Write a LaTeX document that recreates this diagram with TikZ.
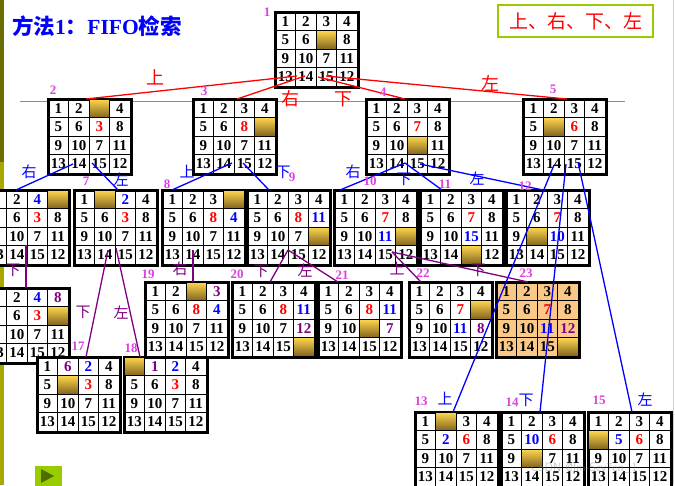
\documentclass[tikz,border=0pt]{standalone}
\usepackage{fontspec}
\setmainfont{Liberation Serif}
\newfontfamily\cjk{Noto Sans CJK SC}
\usetikzlibrary{calc}

\definecolor{tred}{RGB}{255,0,0}
\definecolor{tblue}{RGB}{0,0,255}
\definecolor{tpurple}{RGB}{128,0,128}
\definecolor{tmag}{RGB}{224,64,224}
\definecolor{olivebar}{RGB}{110,110,0}
\definecolor{olivebarb}{RGB}{168,168,0}
\definecolor{oliveline}{RGB}{153,153,51}
\definecolor{limeg}{RGB}{153,204,0}
\definecolor{darkg}{RGB}{80,110,0}
\definecolor{goldtop}{RGB}{255,215,80}
\definecolor{goldbot}{RGB}{130,100,30}
\definecolor{peach}{RGB}{250,200,135}

\tikzset{
  cell/.style={draw, line width=0.9pt, minimum width=20.5pt, minimum height=18.5pt,
    inner sep=0pt, font=\fontsize{15}{15}\selectfont\bfseries, anchor=center},
  ck/.style={text=black},
  cr/.style={text=tred},
  cb/.style={text=tblue},
  cp/.style={text=tpurple},
  ce/.style={top color=goldtop, bottom color=goldbot},
  frame/.style={draw, line width=2.2pt, minimum width=82pt, minimum height=74pt,
    inner sep=0pt, anchor=north west},
  redline/.style={draw=tred, line width=1.3pt},
  blueline/.style={draw=tblue, line width=1.3pt},
  purpline/.style={draw=tpurple, line width=1.3pt},
  rlab/.style={text=tred, font=\cjk\fontsize{18}{18}\selectfont, inner sep=0pt},
  blab/.style={text=tblue, font=\cjk\fontsize{15}{15}\selectfont, inner sep=0pt},
  plab/.style={text=tpurple, font=\cjk\fontsize{15}{15}\selectfont, inner sep=0pt},
  num/.style={text=tmag, font=\fontsize{13}{13}\selectfont\bfseries, inner sep=0pt},
}

\newcommand{\puz}[5]{%
  \node[frame, fill=#4] (#1) at (#2,#3) {};
  \foreach \v/\s [count=\i from 0] in {#5} {
    \pgfmathtruncatemacro{\rr}{\i/4}
    \pgfmathtruncatemacro{\cc}{\i-4*\rr}
    \node[cell, \s] (#1-\i) at ($(#1.north west)+(\cc*20.5+10.25, \rr*18.5+9.25)$) {\v};
  }
  \draw[line width=2.2pt] (#1.north west) rectangle (#1.south east);
}

\begin{document}
\begin{tikzpicture}[x=1pt,y=-1pt]
\fill[white] (0,0) rectangle (675,485);
\useasboundingbox (0,0) rectangle (675,485);

% background decorations
\fill[olivebar] (0,0) rectangle (3.5,162);
\fill[olivebarb] (0,162) rectangle (3.5,485);
\draw[oliveline, line width=0.8pt] (20,101) -- (625,101);
\draw[gray!35, line width=0.6pt] (673.5,0) -- (673.5,485);

% puzzles
\puz{b1}{275}{12}{white}{1/ck,2/ck,3/ck,4/ck,5/ck,6/ck,{}/ce,8/ck,9/ck,10/ck,7/ck,11/ck,13/ck,14/ck,15/ck,12/ck}
\puz{b2}{48}{99}{white}{1/ck,2/ck,{}/ce,4/ck,5/ck,6/ck,3/cr,8/ck,9/ck,10/ck,7/ck,11/ck,13/ck,14/ck,15/ck,12/ck}
\puz{b3}{193}{99}{white}{1/ck,2/ck,3/ck,4/ck,5/ck,6/ck,8/cr,{}/ce,9/ck,10/ck,7/ck,11/ck,13/ck,14/ck,15/ck,12/ck}
\puz{b4}{366}{99}{white}{1/ck,2/ck,3/ck,4/ck,5/ck,6/ck,7/cr,8/ck,9/ck,10/ck,{}/ce,11/ck,13/ck,14/ck,15/ck,12/ck}
\puz{b5}{523}{99}{white}{1/ck,2/ck,3/ck,4/ck,5/ck,{}/ce,6/cr,8/ck,9/ck,10/ck,7/ck,11/ck,13/ck,14/ck,15/ck,12/ck}
\puz{b6}{-14}{190}{white}{1/ck,2/ck,4/cb,{}/ce,5/ck,6/ck,3/cr,8/ck,9/ck,10/ck,7/ck,11/ck,13/ck,14/ck,15/ck,12/ck}
\puz{b7}{74}{190}{white}{1/ck,{}/ce,2/cb,4/ck,5/ck,6/ck,3/cr,8/ck,9/ck,10/ck,7/ck,11/ck,13/ck,14/ck,15/ck,12/ck}
\puz{b8}{162}{190}{white}{1/ck,2/ck,3/ck,{}/ce,5/ck,6/ck,8/cr,4/cb,9/ck,10/ck,7/ck,11/ck,13/ck,14/ck,15/ck,12/ck}
\puz{b9}{247}{190}{white}{1/ck,2/ck,3/ck,4/ck,5/ck,6/ck,8/cr,11/cb,9/ck,10/ck,7/ck,{}/ce,13/ck,14/ck,15/ck,12/ck}
\puz{b10}{334}{190}{white}{1/ck,2/ck,3/ck,4/ck,5/ck,6/ck,7/cr,8/ck,9/ck,10/ck,11/cb,{}/ce,13/ck,14/ck,15/ck,12/ck}
\puz{b11}{420}{190}{white}{1/ck,2/ck,3/ck,4/ck,5/ck,6/ck,7/cr,8/ck,9/ck,10/ck,15/cb,11/ck,13/ck,14/ck,{}/ce,12/ck}
\puz{b12}{506}{190}{white}{1/ck,2/ck,3/ck,4/ck,5/ck,6/ck,7/cr,8/ck,9/ck,{}/ce,10/cb,11/ck,13/ck,14/ck,15/ck,12/ck}
\puz{b16}{-14}{288}{white}{1/ck,2/ck,4/cb,8/cp,5/ck,6/ck,3/cr,{}/ce,9/ck,10/ck,7/ck,11/ck,13/ck,14/ck,15/ck,12/ck}
\puz{b19}{145}{282}{white}{1/ck,2/ck,{}/ce,3/cp,5/ck,6/ck,8/cr,4/cb,9/ck,10/ck,7/ck,11/ck,13/ck,14/ck,15/ck,12/ck}
\puz{b20}{232}{282}{white}{1/ck,2/ck,3/ck,4/ck,5/ck,6/ck,8/cr,11/cb,9/ck,10/ck,7/ck,12/cp,13/ck,14/ck,15/ck,{}/ce}
\puz{b21}{318}{282}{white}{1/ck,2/ck,3/ck,4/ck,5/ck,6/ck,8/cr,11/cb,9/ck,10/ck,{}/ce,7/cp,13/ck,14/ck,15/ck,12/ck}
\puz{b22}{409}{282}{white}{1/ck,2/ck,3/ck,4/ck,5/ck,6/ck,7/cr,{}/ce,9/ck,10/ck,11/cb,8/cp,13/ck,14/ck,15/ck,12/ck}
\puz{b23}{496}{282}{peach}{1/ck,2/ck,3/ck,4/ck,5/ck,6/ck,7/cr,8/ck,9/ck,10/ck,11/cb,12/cp,13/ck,14/ck,15/ck,{}/ce}
\puz{b17}{37}{357}{white}{1/ck,6/cp,2/cb,4/ck,5/ck,{}/ce,3/cr,8/ck,9/ck,10/ck,7/ck,11/ck,13/ck,14/ck,15/ck,12/ck}
\puz{b18}{124}{357}{white}{{}/ce,1/cp,2/cb,4/ck,5/ck,6/ck,3/cr,8/ck,9/ck,10/ck,7/ck,11/ck,13/ck,14/ck,15/ck,12/ck}
\puz{b13}{415}{412}{white}{1/ck,{}/ce,3/ck,4/ck,5/ck,2/cb,6/cr,8/ck,9/ck,10/ck,7/ck,11/ck,13/ck,14/ck,15/ck,12/ck}
\puz{b14}{501}{412}{white}{1/ck,2/ck,3/ck,4/ck,5/ck,10/cb,6/cr,8/ck,9/ck,{}/ce,7/ck,11/ck,13/ck,14/ck,15/ck,12/ck}
\puz{b15}{588}{412}{white}{1/ck,2/ck,3/ck,4/ck,{}/ce,5/cb,6/cr,8/ck,9/ck,10/ck,7/ck,11/ck,13/ck,14/ck,15/ck,12/ck}

% level 1 connectors (red)
\draw[redline] ($(b1.north west)+(22,64)$) -- ($(b2.north west)+(38,0)$);
\draw[redline] ($(b1.north west)+(30,64)$) -- ($(b3.north west)+(44,0)$);
\draw[redline] ($(b1.north west)+(43,65)$) -- ($(b4.north west)+(39,0)$);
\draw[redline] ($(b1.north west)+(51,64)$) -- ($(b5.north west)+(44,0)$);

% level 2 connectors (blue)
\draw[blueline] ($(b2.north west)+(25,65)$) -- ($(b6.north west)+(30,0)$);
\draw[blueline] ($(b2.north west)+(44,64)$) -- ($(b7.north west)+(44,0)$);
\draw[blueline] ($(b3.north west)+(39,64)$) -- ($(b8.north west)+(10,0)$);
\draw[blueline] ($(b3.north west)+(50,64)$) -- ($(b9.north west)+(22,0)$);
\draw[blueline] ($(b4.north west)+(39,64)$) -- ($(b10.north west)+(6,0)$);
\draw[blueline] ($(b4.north west)+(39,64)$) -- ($(b11.north west)+(22,0)$);
\draw[blueline] ($(b4.north west)+(54,65)$) -- ($(b12.north west)+(37,0)$);
\draw[blueline] ($(b5.north west)+(31,66)$) -- ($(b13.north west)+(38,0)$);
\draw[blueline] ($(b5.north west)+(43,65)$) -- ($(b14.north west)+(39,0)$);
\draw[blueline] ($(b5.north west)+(55,63)$) -- ($(b15.north west)+(44,0)$);

% level 3 connectors (purple)
\draw[purpline] ($(b6.north west)+(40,55)$) -- ($(b16.north west)+(40,0)$);
\draw[purpline] ($(b7.north west)+(34,60)$) -- ($(b17.north west)+(49,0)$);
\draw[purpline] ($(b7.north west)+(42,58)$) -- ($(b18.north west)+(16,0)$);
\draw[purpline] ($(b8.north west)+(31,60)$) -- ($(b19.north west)+(48,0)$);
\draw[purpline] ($(b9.north west)+(41,60)$) -- ($(b20.north west)+(38,0)$);
\draw[purpline] ($(b9.north west)+(41,60)$) -- ($(b21.north west)+(20,0)$);
\draw[purpline] ($(b10.north west)+(58,62)$) -- ($(b22.north west)+(12,0)$);
\draw[purpline] ($(b10.north west)+(58,62)$) -- ($(b23.north west)+(32,0)$);

% direction labels
\node[rlab] (r1) at (155,77) {上};
\node[rlab] (r2) at (290,99) {右};
\node[rlab] (r3) at (343,99) {下};
\node[rlab] (r4) at (490,83) {左};

\node[blab] (u1) at (29,172) {右};
\node[blab] (u2) at (121,180) {左};
\node[blab] (u3) at (187,172) {上};
\node[blab] (u4) at (283,172) {下};
\node[blab] (u5) at (353,172) {右};
\node[blab] (u6) at (404,179) {下};
\node[blab] (u7) at (477,179) {左};
\node[blab] (u8) at (445,399) {上};
\node[blab] (u9) at (526,400) {下};
\node[blab] (u10) at (645,400) {左};

\node[plab] (p1) at (13,270) {下};
\node[plab] (p2) at (83,312) {下};
\node[plab] (p3) at (121,313) {左};
\node[plab] (p4) at (180,269) {右};
\node[plab] (p5) at (261,271) {下};
\node[plab] (p6) at (305,271) {左};
\node[plab] (p7) at (397,269) {上};
\node[plab] (p8) at (478,270) {下};

% state numbers
\node[num] (n1) at (267,12) {1};
\node[num] (n2) at (53,90) {2};
\node[num] (n3) at (204,91) {3};
\node[num] (n4) at (383,92) {4};
\node[num] (n5) at (553,89) {5};
\node[num] (n7) at (86,181) {7};
\node[num] (n8) at (167,184) {8};
\node[num] (n9) at (292,177) {9};
\node[num] (n10) at (370,181) {10};
\node[num] (n11) at (445,184) {11};
\node[num] (n12) at (525,186) {12};
\node[num] (n13) at (421,401) {13};
\node[num] (n14) at (512,402) {14};
\node[num] (n15) at (599,400) {15};
\node[num] (n17) at (78,346) {17};
\node[num] (n18) at (131,348) {18};
\node[num] (n19) at (148,274) {19};
\node[num] (n20) at (237,274) {20};
\node[num] (n21) at (342,275) {21};
\node[num] (n22) at (423,273) {22};
\node[num] (n23) at (526,273) {23};

% title and order box
\node[anchor=west, text=tblue, inner sep=0pt, font=\fontsize{21.5}{21.5}\selectfont\bfseries] (title) at (12,26)
  {{\cjk 方法}1{\cjk ：}FIFO{\cjk 检索}};
\node[draw=limeg, line width=2pt, minimum width=155pt, minimum height=32pt, inner sep=0pt,
  text=tred, font=\cjk\fontsize{19}{19}\selectfont] (order) at (575.5,21) {上、右、下、左};

% play button
\node[fill=limeg, minimum width=27pt, minimum height=20pt, inner sep=0pt, anchor=north west] (play) at (35,466) {};
\fill[darkg] ($(play.north west)+(6,3)$) -- ($(play.north west)+(6,17)$) -- ($(play.north west)+(19,10)$) -- cycle;

% watermark
\node[text=gray, opacity=0.45, font=\sffamily\fontsize{12}{12}\selectfont, inner sep=0pt] (wm) at (584,468) {CSDN @Im-Sev7en\_1};
\end{tikzpicture}
\end{document}
